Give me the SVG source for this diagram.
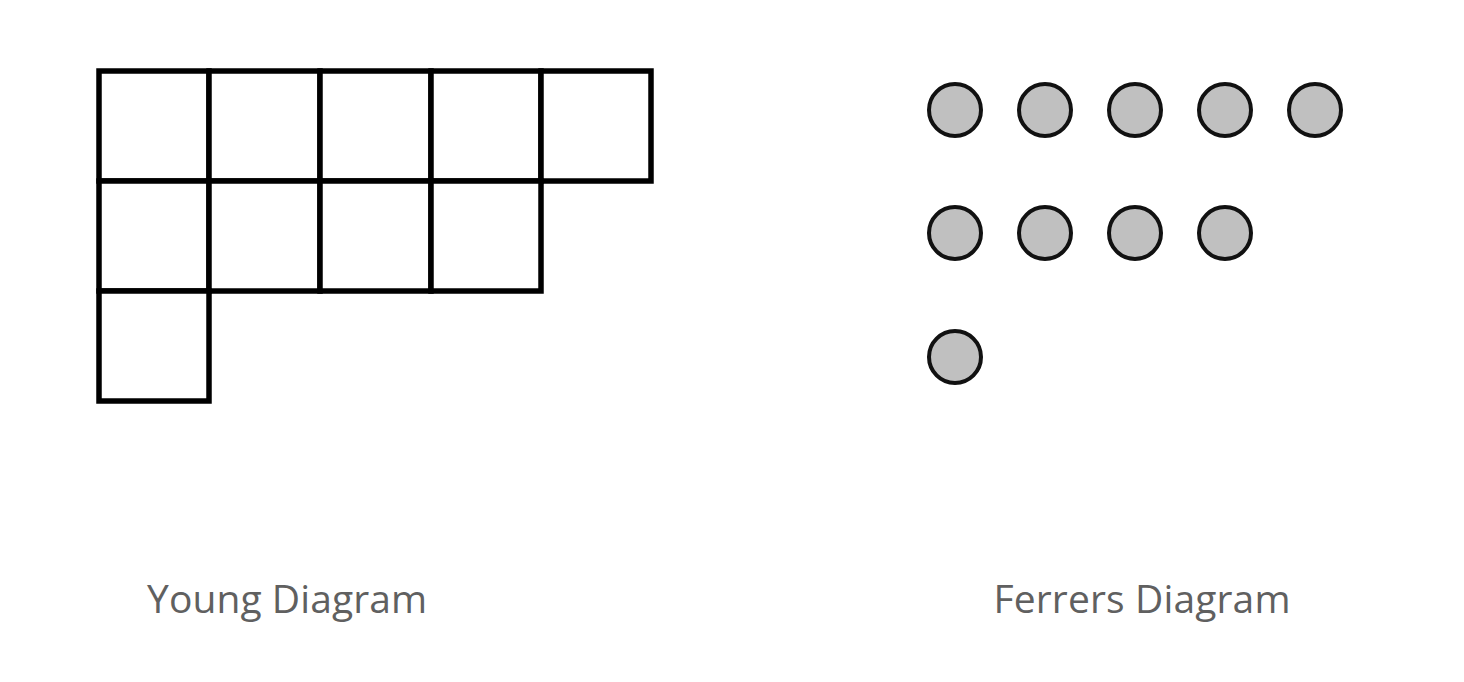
<svg xmlns="http://www.w3.org/2000/svg" width="1464" height="682" viewBox="0 0 1464 682">
<style>
.cell{fill:#fff;stroke:#000;stroke-width:5.5}
.dot{fill:#c0c0c0;stroke:#111;stroke-width:4}
.lbl{font-family:"Open Sans",Lato,sans-serif;font-size:39px;fill:#606060;text-anchor:middle}
</style>
<rect width="1464" height="682" fill="#fff"/>
<g id="young">
<rect class="cell" x="99" y="71" width="110" height="110"/>
<rect class="cell" x="209" y="71" width="111" height="110"/>
<rect class="cell" x="320" y="71" width="111" height="110"/>
<rect class="cell" x="431" y="71" width="110" height="110"/>
<rect class="cell" x="541" y="71" width="110" height="110"/>
<rect class="cell" x="99" y="181" width="110" height="110"/>
<rect class="cell" x="209" y="181" width="111" height="110"/>
<rect class="cell" x="320" y="181" width="111" height="110"/>
<rect class="cell" x="431" y="181" width="110" height="110"/>
<rect class="cell" x="99" y="291" width="110" height="110"/>
</g>
<g id="ferrers">
<circle class="dot" cx="955" cy="110" r="26"/>
<circle class="dot" cx="1045" cy="110" r="26"/>
<circle class="dot" cx="1135" cy="110" r="26"/>
<circle class="dot" cx="1225" cy="110" r="26"/>
<circle class="dot" cx="1315" cy="110" r="26"/>
<circle class="dot" cx="955" cy="233" r="26"/>
<circle class="dot" cx="1045" cy="233" r="26"/>
<circle class="dot" cx="1135" cy="233" r="26"/>
<circle class="dot" cx="1225" cy="233" r="26"/>
<circle class="dot" cx="955" cy="357" r="26"/>
</g>
<g id="labels">
<text class="lbl" x="287" y="613" textLength="280">Young Diagram</text>
<text class="lbl" x="1142" y="613" textLength="297">Ferrers Diagram</text>
</g>
</svg>
